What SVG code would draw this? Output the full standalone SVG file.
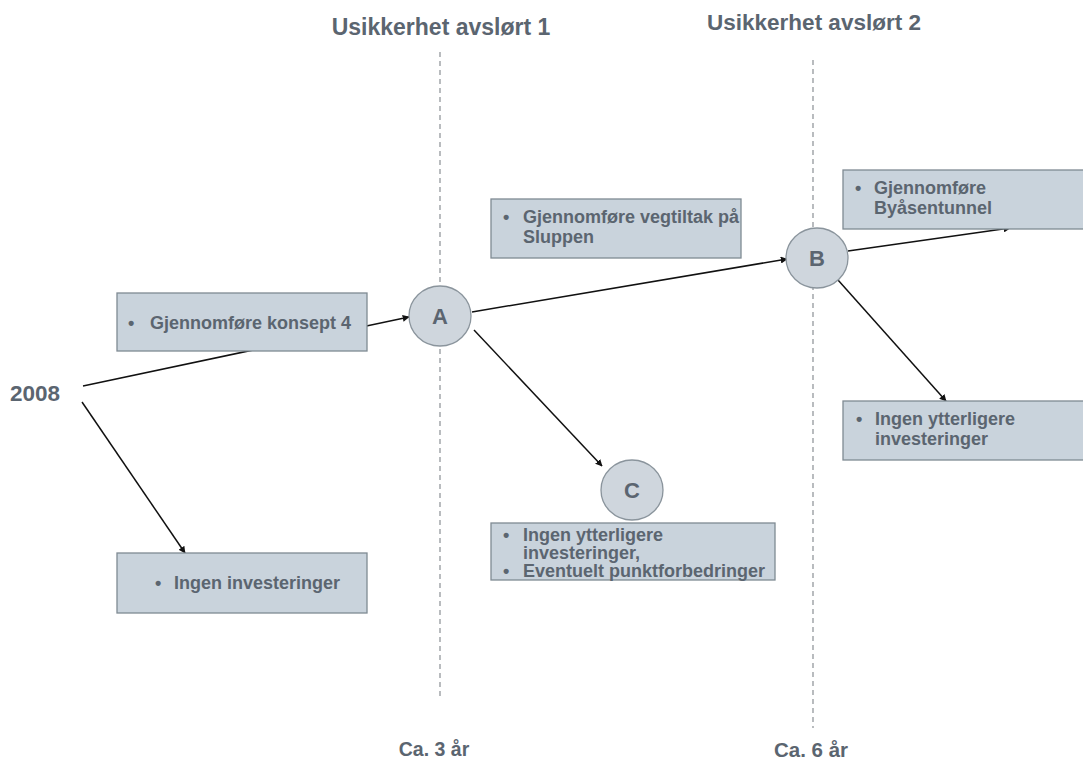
<svg xmlns="http://www.w3.org/2000/svg" width="1083" height="760" viewBox="0 0 1083 760">
<defs>
<marker id="ah" viewBox="0 0 10 10" refX="9" refY="5" markerWidth="7" markerHeight="7" orient="auto" markerUnits="userSpaceOnUse">
<path d="M0,0 L10,5 L0,10 z" fill="#111"/>
</marker>
<style>
.box{fill:#c9d3dc;stroke:#7f8a93;stroke-width:1.3}
.circ{fill:#cfd6dd;stroke:#8a949c;stroke-width:1.3}
.t{font-family:"Liberation Sans",Arial,sans-serif;font-weight:bold;fill:#5b6570;font-size:18px}
.big{font-family:"Liberation Sans",Arial,sans-serif;font-weight:bold;fill:#5b6570}
.lbl{font-family:"Liberation Sans",Arial,sans-serif;font-weight:bold;fill:#5b6570;font-size:22px;text-anchor:middle}
.dash{stroke:#8a8f94;stroke-width:1.2;stroke-dasharray:5,4;fill:none}
.con{stroke:#111;stroke-width:1.5;fill:none;marker-end:url(#ah)}
</style>
</defs>
<rect width="1083" height="760" fill="#fff"/>
<g id="axes">
<line class="dash" x1="440" y1="52" x2="440" y2="697"/>
<line class="dash" x1="813" y1="60" x2="813" y2="728"/>
<text class="big" x="441" y="35" font-size="23" text-anchor="middle">Usikkerhet avslørt 1</text>
<text class="big" x="814" y="30" font-size="22.5" text-anchor="middle">Usikkerhet avslørt 2</text>
<text class="big" x="434" y="756" font-size="19.5" text-anchor="middle">Ca. 3 år</text>
<text class="big" x="811" y="757" font-size="20.5" text-anchor="middle">Ca. 6 år</text>
<text class="big" x="10" y="401" font-size="22.5">2008</text>
</g>
<g id="connectors">
<line class="con" x1="83" y1="386" x2="409" y2="317"/>
<line class="con" x1="82" y1="402" x2="185" y2="553"/>
<line class="con" x1="472" y1="312" x2="787" y2="259"/>
<line class="con" x1="474" y1="330" x2="602" y2="466"/>
<line class="con" x1="848" y1="251" x2="1010" y2="228"/>
<line class="con" x1="838" y1="280" x2="946" y2="401"/>
</g>
<g id="box1">
<rect class="box" x="117" y="293" width="250" height="58"/>
<text class="t" x="128" y="329" font-size="17">•</text>
<text class="t" x="150" y="329" font-size="17">Gjennomføre konsept 4</text>
</g>
<g id="box2">
<rect class="box" x="491" y="199" width="250" height="59"/>
<text class="t" x="503" y="223">•</text>
<text class="t" x="523" y="223" font-size="17.8">Gjennomføre vegtiltak på</text>
<text class="t" x="523" y="243" font-size="17.8">Sluppen</text>
</g>
<g id="box3">
<rect class="box" x="843" y="170" width="245" height="59"/>
<text class="t" x="855" y="194">•</text>
<text class="t" x="874" y="194">Gjennomføre</text>
<text class="t" x="874" y="214">Byåsentunnel</text>
</g>
<g id="box4">
<rect class="box" x="843" y="401" width="245" height="59"/>
<text class="t" x="856" y="425">•</text>
<text class="t" x="875" y="425">Ingen ytterligere</text>
<text class="t" x="875" y="445">investeringer</text>
</g>
<g id="boxC">
<rect class="box" x="491" y="523" width="284" height="57"/>
<text class="t" x="503" y="541" font-size="17">•</text>
<text class="t" x="523" y="541" font-size="17">Ingen ytterligere</text>
<text class="t" x="523" y="559" font-size="17">investeringer,</text>
<text class="t" x="503" y="577" font-size="17">•</text>
<text class="t" x="523" y="577" font-size="17">Eventuelt punktforbedringer</text>
</g>
<g id="box6">
<rect class="box" x="117" y="553" width="250" height="60"/>
<text class="t" x="155" y="589">•</text>
<text class="t" x="174" y="589">Ingen investeringer</text>
</g>
<g id="nodeA">
<ellipse class="circ" cx="440" cy="316" rx="31" ry="30"/>
<text class="lbl" x="440" y="324">A</text>
</g>
<g id="nodeB">
<ellipse class="circ" cx="817" cy="258" rx="31" ry="30"/>
<text class="lbl" x="817" y="266">B</text>
</g>
<g id="nodeC">
<ellipse class="circ" cx="632" cy="490" rx="31" ry="30"/>
<text class="lbl" x="632" y="498">C</text>
</g>
</svg>
